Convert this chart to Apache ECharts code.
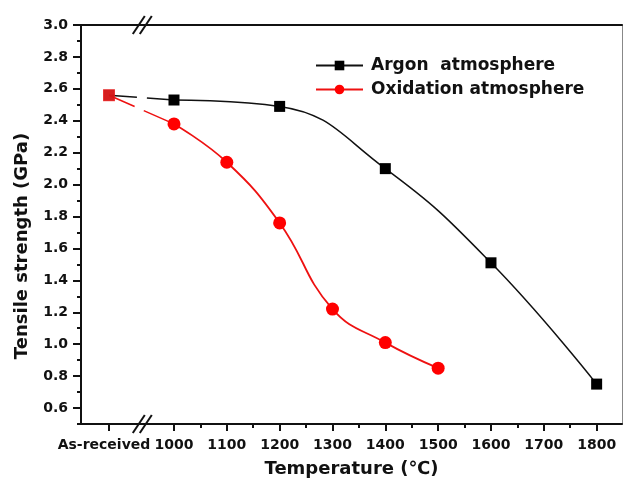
<!DOCTYPE html>
<html>
<head>
<meta charset="utf-8">
<script src="https://cdn.jsdelivr.net/npm/echarts@6/dist/echarts.min.js"></script>
<style>
html,body{margin:0;padding:0;background:#fff;}
#main{width:623px;height:483px;}
</style>
</head>
<body>
<div id="main"></div>
<script>
// ---- data ----
const xTickLabels = ['As-received', 1000, 1100, 1200, 1300, 1400, 1500, 1600, 1700, 1800];
const xMinorTicks = [1050, 1150, 1250, 1350, 1450, 1550, 1650, 1750];
const yTickLabels = [0.6, 0.8, 1.0, 1.2, 1.4, 1.6, 1.8, 2.0, 2.2, 2.4, 2.6, 2.8, 3.0];
const yMinorTicks = [0.5, 0.7, 0.9, 1.1, 1.3, 1.5, 1.7, 1.9, 2.1, 2.3, 2.5, 2.7, 2.9];

const argonTemps = ['As-received', 1000, 1200, 1400, 1600, 1800];
const argonValues = [2.56, 2.53, 2.49, 2.10, 1.51, 0.75];
const oxTemps = ['As-received', 1000, 1100, 1200, 1300, 1400, 1500];
const oxValues = [2.56, 2.38, 2.14, 1.76, 1.22, 1.01, 0.85];

const seriesNames = ['Argon  atmosphere', 'Oxidation atmosphere'];

// ---- axis config (broken x axis) ----
const AS_RECEIVED_POS = 877;   // where the 'As-received' category sits on the broken axis
const BREAK_POS = 940;
const X_MIN = 824, X_MAX = 1848;
const FONT = 'DejaVu Sans';

const pos = t => (t === 'As-received' ? AS_RECEIVED_POS : t);
const xTickPos = xTickLabels.map(pos);
const pairs = (temps, vals) => temps.map((t, i) => [pos(t), vals[i]]);

const argonData = pairs(argonTemps, argonValues);
const oxData = pairs(oxTemps, oxValues);

const chart = echarts.init(document.getElementById('main'), null, { renderer: 'canvas' });

const baseX = { type: 'value', min: X_MIN, max: X_MAX, splitLine: { show: false } };
const baseY = { type: 'value', min: 0.5, max: 3.0, splitLine: { show: false } };

const option = {
  animation: false,
  backgroundColor: '#fff',
  grid: { left: 81, right: 1, top: 25, bottom: 55, containLabel: false },
  legend: {
    data: seriesNames,
    orient: 'vertical',
    left: 310, top: 52,
    itemWidth: 47, itemHeight: 12, itemGap: 7,
    textStyle: { fontFamily: FONT, fontWeight: 'bold', fontSize: 17, color: '#111', padding: [0, 0, 0, 3] }
  },
  xAxis: [
    Object.assign({}, baseX, {
      position: 'bottom',
      name: 'Temperature (℃)', nameLocation: 'middle', nameGap: 36,
      nameTextStyle: { fontFamily: FONT, fontWeight: 'bold', fontSize: 18, color: '#111' },
      axisLine: { show: true, lineStyle: { color: '#111', width: 2 } },
      axisTick: { show: true, inside: false, length: 7, lineStyle: { color: '#111', width: 2 }, customValues: xTickPos },
      axisLabel: {
        margin: 14, fontFamily: FONT, fontWeight: 'bold', fontSize: 14, color: '#111',
        customValues: xTickPos,
        formatter: v => (v === AS_RECEIVED_POS ? '{a|As-received}' : String(v)),
        rich: { a: { fontFamily: FONT, fontWeight: 'bold', fontSize: 14, color: '#111', padding: [0, 10, 0, 0] } }
      }
    }),
    Object.assign({}, baseX, {
      position: 'bottom',
      axisLine: { show: false },
      axisTick: { show: true, inside: false, length: 4, lineStyle: { color: '#111', width: 2 }, customValues: xMinorTicks },
      axisLabel: { show: false }
    }),
    Object.assign({}, baseX, {
      position: 'top',
      axisLine: { show: true, lineStyle: { color: '#111', width: 2 } },
      axisTick: { show: false }, axisLabel: { show: false }
    })
  ],
  yAxis: [
    Object.assign({}, baseY, {
      position: 'left',
      axisLine: { show: true, lineStyle: { color: '#111', width: 2 } },
      axisTick: { show: true, inside: false, length: 8, lineStyle: { color: '#111', width: 2 }, customValues: yTickLabels },
      axisLabel: {
        margin: 13, fontFamily: FONT, fontWeight: 'bold', fontSize: 14, color: '#111',
        customValues: yTickLabels, formatter: v => v.toFixed(1)
      }
    }),
    Object.assign({}, baseY, {
      position: 'left',
      axisLine: { show: false },
      axisTick: { show: true, inside: false, length: 4, lineStyle: { color: '#111', width: 2 }, customValues: yMinorTicks },
      axisLabel: { show: false }
    }),
    Object.assign({}, baseY, {
      position: 'right',
      axisLine: { show: true, lineStyle: { color: '#888', width: 1 } },
      axisTick: { show: false }, axisLabel: { show: false }
    })
  ],
  series: [
    {
      name: 'argon-link', type: 'line', data: argonData.slice(0, 2),
      showSymbol: false, symbol: 'none', silent: true,
      lineStyle: { color: '#111', width: 1.5, type: [28, 10] }, z: 2
    },
    {
      name: 'ox-link', type: 'line', data: oxData.slice(0, 2),
      showSymbol: false, symbol: 'none', silent: true,
      lineStyle: { color: '#ee1111', width: 1.5, type: [28, 10] }, z: 2
    },
    {
      name: seriesNames[0], type: 'line', data: argonData.slice(1),
      smooth: 0.45, symbol: 'rect', symbolSize: 11,
      itemStyle: { color: '#000' }, lineStyle: { color: '#111', width: 1.5 }, z: 3
    },
    {
      name: seriesNames[0], type: 'scatter', data: argonData.slice(0, 1),
      symbol: 'rect', symbolSize: 11, itemStyle: { color: '#000' }, z: 3
    },
    {
      name: seriesNames[1], type: 'line', data: oxData.slice(1),
      smooth: 0.45, symbol: 'circle', symbolSize: 13,
      itemStyle: { color: '#ff0000' }, lineStyle: { color: '#ee1111', width: 1.8 }, z: 4
    },
    {
      name: seriesNames[1], type: 'scatter', data: oxData.slice(0, 1),
      symbol: 'rect', symbolSize: 12, itemStyle: { color: '#ff1a1a' }, z: 4
    }
  ]
};
chart.setOption(option);

// axis-break marks "//" on the bottom and top spines
const bx = chart.convertToPixel({ xAxisIndex: 0 }, BREAK_POS);
const yBottom = chart.convertToPixel({ yAxisIndex: 0 }, 0.5);
const yTop = chart.convertToPixel({ yAxisIndex: 0 }, 3.0);
function breakMark(cx, cy) {
  const dx = 6, dy = 9, sep = 3.5;
  return {
    type: 'group', z: 100,
    children: [
      { type: 'polygon', shape: { points: [[cx - sep - dx, cy + dy], [cx - sep + dx, cy - dy], [cx + sep + dx, cy - dy], [cx + sep - dx, cy + dy]] },
        style: { fill: '#fff' } },
      { type: 'line', shape: { x1: cx - sep - dx, y1: cy + dy, x2: cx - sep + dx, y2: cy - dy }, style: { stroke: '#111', lineWidth: 2 } },
      { type: 'line', shape: { x1: cx + sep - dx, y1: cy + dy, x2: cx + sep + dx, y2: cy - dy }, style: { stroke: '#111', lineWidth: 2 } }
    ]
  };
}
chart.setOption({
  graphic: [
    breakMark(bx, yBottom),
    breakMark(bx, yTop),
    {
      type: 'text', x: 22, y: 246, rotation: Math.PI / 2, z: 100,
      style: { text: 'Tensile strength (GPa)', fontFamily: FONT, fontWeight: 'bold', fontSize: 18, fill: '#111', align: 'center', verticalAlign: 'middle' }
    }
  ]
});
</script>
</body>
</html>
